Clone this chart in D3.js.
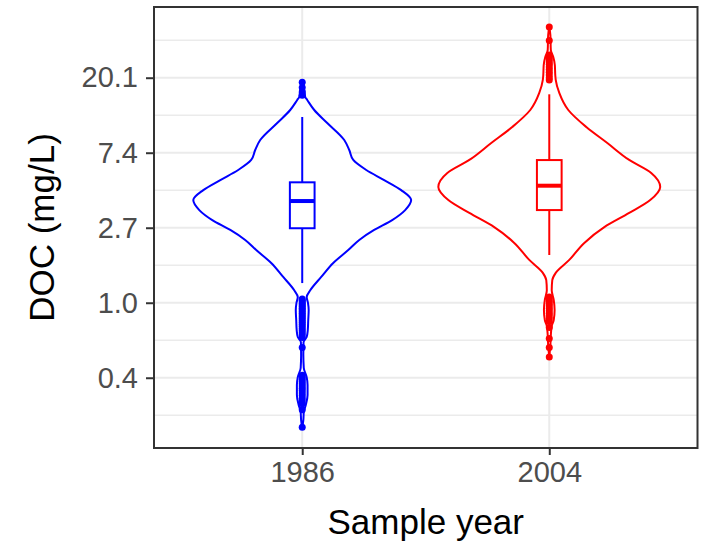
<!DOCTYPE html>
<html><head><meta charset="utf-8">
<script src="https://cdn.jsdelivr.net/npm/d3@7/dist/d3.min.js"></script>
<style>
body{margin:0;background:#fff}
text{font-family:"Liberation Sans",Arial,Helvetica,sans-serif}
</style>
</head><body>
<svg id="chart" width="707" height="543"></svg>
<script>
// ---------- data ----------
const categories = ["1986", "2004"];
const seriesColors = ["#0000FF", "#FF0000"];
const yTickValues = [0.3679, 1.0, 2.7183, 7.3891, 20.0855];
const yTickLabels = ["0.4", "1.0", "2.7", "7.4", "20.1"];
const yMinorValues = [0.2231, 0.6065, 1.6487, 4.4817, 12.1825, 33.1155];
const yDomain = [0.1442, 51.56];
const xLabel = "Sample year";
const yLabel = "DOC (mg/L)";

// violin profiles: DOC value (mg/L) and relative half-width density
const violin1986Values = [18.94, 17.97, 17.05, 15.53, 14.93, 13.06, 10.98, 8.75, 7.66, 6.71, 5.87, 5.13, 4.49, 3.93, 3.44, 3.01, 2.64, 2.31, 2.02, 1.70, 1.41, 1.18, 1.08, 0.996, 0.907, 0.794, 0.695, 0.633, 0.592, 0.498, 0.419, 0.371, 0.334, 0.292, 0.256, 0.233, 0.209, 0.188];
const violin1986Density = [0, 0.012, 0.018, 0.027, 0.045, 0.108, 0.225, 0.378, 0.423, 0.459, 0.576, 0.737, 0.890, 0.980, 0.926, 0.809, 0.647, 0.513, 0.414, 0.279, 0.171, 0.072, 0.040, 0.052, 0.058, 0.054, 0.050, 0.040, 0.012, 0.010, 0.014, 0.040, 0.048, 0.048, 0.032, 0.014, 0.010, 0];
const violin2004Values = [39.5, 35.5, 29.0, 26.5, 23.8, 20.8, 19.5, 16.4, 13.06, 10.41, 8.41, 6.71, 5.64, 4.68, 3.93, 3.31, 2.74, 2.22, 1.77, 1.49, 1.35, 1.18, 1.04, 0.907, 0.794, 0.733, 0.650, 0.569, 0.485];
const violin2004Density = [0, 0.010, 0.014, 0.036, 0.050, 0.054, 0.058, 0.090, 0.171, 0.333, 0.522, 0.719, 0.917, 0.998, 0.908, 0.719, 0.495, 0.315, 0.180, 0.058, 0.027, 0.022, 0.040, 0.048, 0.040, 0.022, 0.014, 0.010, 0];

// boxplot stats: [lower whisker, Q1, median, Q3, upper whisker]
const box1986 = [1.30, 2.70, 3.88, 4.98, 11.9];
const box2004 = [1.89, 3.44, 4.76, 6.70, 16.1];

const outliers1986 = [18.9, 17.6, 16.6, 15.9, 1.05, 1.03, 1.01, 0.99, 0.97, 0.95, 0.93, 0.91, 0.89, 0.87, 0.85, 0.83, 0.81, 0.79, 0.77, 0.75, 0.73, 0.71, 0.69, 0.67, 0.65, 0.63, 0.55, 0.38, 0.37, 0.36, 0.35, 0.34, 0.33, 0.32, 0.31, 0.30, 0.29, 0.28, 0.27, 0.26, 0.24, 0.19];
const outliers2004 = [39.5, 33.0, 27.2, 26.4, 25.6, 24.8, 24.0, 23.2, 22.4, 21.6, 20.8, 20.1, 19.5, 1.08, 1.05, 1.02, 0.99, 0.96, 0.93, 0.90, 0.87, 0.84, 0.81, 0.78, 0.72, 0.62, 0.55, 0.485];

// ---------- layout ----------
const panel = {left: 154, right: 697.5, top: 7, bottom: 448};
const svg = d3.select("#chart");

const x = d3.scalePoint().domain(categories).range([panel.left, panel.right]).padding(0.6);
const step = x.step();
const y = d3.scaleLog().base(Math.E).domain(yDomain).range([panel.bottom, panel.top]);

svg.append("rect").attr("x", panel.left).attr("y", panel.top)
  .attr("width", panel.right - panel.left).attr("height", panel.bottom - panel.top).attr("fill", "#fff");

// grid
const grid = svg.append("g");
grid.selectAll(".minor").data(yMinorValues).join("line")
  .attr("x1", panel.left).attr("x2", panel.right)
  .attr("y1", d => y(d)).attr("y2", d => y(d))
  .attr("stroke", "#EBEBEB").attr("stroke-width", 1.4);
grid.selectAll(".major").data(yTickValues).join("line")
  .attr("x1", panel.left).attr("x2", panel.right)
  .attr("y1", d => y(d)).attr("y2", d => y(d))
  .attr("stroke", "#EBEBEB").attr("stroke-width", 2);
grid.selectAll(".vmajor").data(categories).join("line")
  .attr("x1", d => x(d)).attr("x2", d => x(d))
  .attr("y1", panel.top).attr("y2", panel.bottom)
  .attr("stroke", "#EBEBEB").attr("stroke-width", 2);

// violins + boxplots
const groups = [
  {cat: categories[0], col: seriesColors[0], vals: violin1986Values, dens: violin1986Density, box: box1986, out: outliers1986},
  {cat: categories[1], col: seriesColors[1], vals: violin2004Values, dens: violin2004Density, box: box2004, out: outliers2004}
];
const w = d3.scaleLinear().domain([0, 1]).range([0, 0.45 * step]);
const boxHalf = 0.05 * step;

groups.forEach(g => {
  const cx = x(g.cat);
  const pts = g.vals.map((v, i) => ({v, d: g.dens[i]}));
  const area = d3.area()
    .x0(d => cx - w(d.d)).x1(d => cx + w(d.d)).y(d => y(d.v))
    .curve(d3.curveMonotoneY);
  svg.append("path").datum(pts).attr("d", area)
    .attr("fill", "#fff").attr("stroke", g.col).attr("stroke-width", 2).attr("stroke-linejoin", "round");

  const [lw, q1, med, q3, uw] = g.box;
  const gb = svg.append("g").attr("stroke", g.col);
  gb.append("line").attr("x1", cx).attr("x2", cx).attr("y1", y(q3)).attr("y2", y(uw)).attr("stroke-width", 2);
  gb.append("line").attr("x1", cx).attr("x2", cx).attr("y1", y(q1)).attr("y2", y(lw)).attr("stroke-width", 2);
  gb.append("rect").attr("x", cx - boxHalf).attr("width", 2 * boxHalf)
    .attr("y", y(q3)).attr("height", y(q1) - y(q3))
    .attr("fill", "#fff").attr("stroke-width", 2);
  gb.append("line").attr("x1", cx - boxHalf).attr("x2", cx + boxHalf)
    .attr("y1", y(med)).attr("y2", y(med)).attr("stroke-width", 4);
  svg.append("g").selectAll("circle").data(g.out).join("circle")
    .attr("cx", cx).attr("cy", d => y(d)).attr("r", 3.5).attr("fill", g.col);
});

// panel border
svg.append("rect").attr("x", panel.left).attr("y", panel.top)
  .attr("width", panel.right - panel.left).attr("height", panel.bottom - panel.top)
  .attr("fill", "none").attr("stroke", "#333333").attr("stroke-width", 2);

// axes
const yAxis = d3.axisLeft(y).tickValues(yTickValues).tickSize(8).tickPadding(8)
  .tickFormat((d, i) => yTickLabels[i]);
const ya = svg.append("g").attr("transform", `translate(${panel.left},0)`).call(yAxis);
ya.select(".domain").remove();
ya.selectAll(".tick line").attr("stroke", "#333333").attr("stroke-width", 2);
ya.selectAll(".tick text").attr("fill", "#4D4D4D").style("font-size", "29px")
  .style("font-family", "'Liberation Sans', Arial, sans-serif");

const xAxis = d3.axisBottom(x).tickSize(7).tickPadding(6);
const xa = svg.append("g").attr("transform", `translate(0,${panel.bottom})`).call(xAxis);
xa.select(".domain").remove();
xa.selectAll(".tick line").attr("stroke", "#333333").attr("stroke-width", 2);
xa.selectAll(".tick text").attr("fill", "#4D4D4D").style("font-size", "29px")
  .style("font-family", "'Liberation Sans', Arial, sans-serif");

svg.append("text").attr("x", (panel.left + panel.right) / 2).attr("y", 534)
  .attr("text-anchor", "middle").attr("fill", "#000").style("font-size", "35px").text(xLabel);
svg.append("text").attr("transform", `translate(54,${(panel.top + panel.bottom) / 2}) rotate(-90)`)
  .attr("text-anchor", "middle").attr("fill", "#000").style("font-size", "35px").text(yLabel);
</script>
</body></html>
